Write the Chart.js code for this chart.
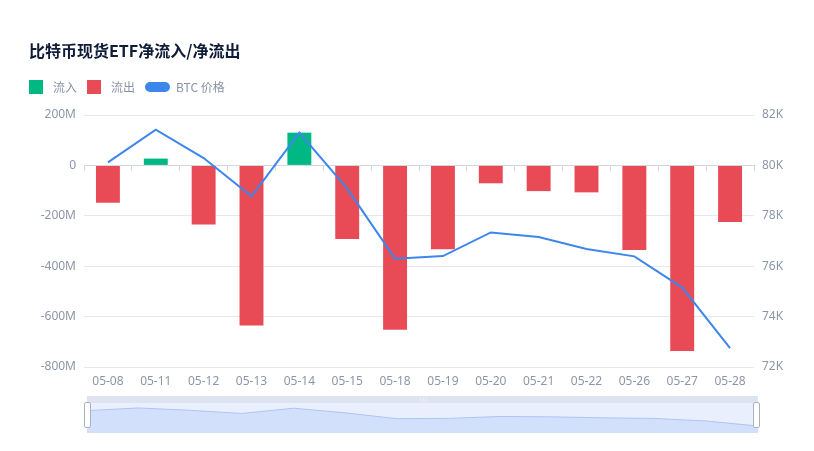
<!DOCTYPE html>
<html>
<head>
<meta charset="utf-8">
<script src="https://cdn.jsdelivr.net/npm/chart.js@4.4.1/dist/chart.umd.min.js"></script>
<style>
    body { margin: 0; background: #fff; font-family: "Noto Sans", "Noto Sans CJK SC", sans-serif; }
    #wrap { position: relative; width: 814px; height: 451px; }
    #main { position: absolute; left: 0; top: 0; }
    .title { position: absolute; left: 29px; top: 39px; font-size: 16px; font-weight: bold; color: #0f1c38; font-family: "Noto Sans CJK SC", sans-serif; line-height: 22px; }
    .legend { position: absolute; left: 29px; top: 78px; display: flex; align-items: center; font-size: 12px; color: #8a92a5; font-family: "Noto Sans CJK SC", sans-serif; }
    .legend .item { display: flex; align-items: center; margin-right: 10px; }
    .legend .sq { width: 14px; height: 14px; margin-right: 10px; }
    .legend .pill { width: 25px; height: 10px; border-radius: 5px; margin-right: 6px; }
    .slider { position: absolute; left: 87px; top: 396px; width: 671px; height: 37px; background: #e9effd; }
    .slider .band { position: absolute; left: 0; top: 0; width: 100%; height: 7px; background: #dde3f0; }
    .slider .grip { position: absolute; left: 332px; top: 1px; font-size: 5px; color: #fff; line-height: 5px; }
    #mini { position: absolute; left: 0; top: 7px; }
    .handle { position: absolute; top: 402px; width: 5px; height: 24px; background: #fff; border: 1px solid #a9b1c2; border-radius: 2px; }
</style>
</head>
<body>
<div id="wrap">
    <canvas id="main" width="814" height="451"></canvas>
    <div class="title">比特币现货ETF净流入/净流出</div>
    <div class="legend">
        <div class="item"><div class="sq" style="background:#00b883"></div><span>流入</span></div>
        <div class="item"><div class="sq" style="background:#e84b55"></div><span>流出</span></div>
        <div class="item"><div class="pill" style="background:#3d86ec"></div><span>BTC 价格</span></div>
    </div>
    <div class="slider">
        <div class="band"><span class="grip">|||</span></div>
        <canvas id="mini" width="671" height="30"></canvas>
    </div>
    <div class="handle" style="left:84px"></div>
    <div class="handle" style="left:753px"></div>
</div>
<script>
// Dates and values
const dates = ["05-08", "05-11", "05-12", "05-13", "05-14", "05-15", "05-18", "05-19", "05-20", "05-21", "05-22", "05-26", "05-27", "05-28"];
// net ETF flow, millions USD
const netFlow = [-148, 27, -235, -635, 130, -292, -652, -333, -71, -102, -107, -336, -737, -225];
// BTC price, USD
const btcPrice = [80120, 81420, 80290, 78770, 81300, 79080, 76300, 76400, 77340, 77160, 76680, 76390, 75150, 72750];

const flowTicks = { min: -800, max: 200, step: 200 };
const priceTicks = { min: 72000, max: 82000, step: 2000 };

const GREEN = '#00b883';
const RED = '#e84b55';
const BLUE = '#3d86ec';
const LABEL = '#8d95a6';
const GRID = '#e6e8ec';
const AXIS = '#d3d7de';

const inflow = netFlow.map(v => v > 0 ? v : null);
const outflow = netFlow.map(v => v < 0 ? v : null);

const font = { family: '"Noto Sans", "Noto Sans CJK SC", sans-serif', size: 12 };

function initCharts() {
    const ctx = document.getElementById('main').getContext('2d');
    new Chart(ctx, {
        type: 'bar',
        data: {
            labels: dates,
            datasets: [
                {
                    type: 'line',
                    label: 'BTC 价格',
                    data: btcPrice,
                    yAxisID: 'y1',
                    borderColor: BLUE,
                    borderWidth: 2,
                    pointRadius: 0,
                    tension: 0,
                    order: 0
                },
                {
                    label: '流入',
                    data: inflow,
                    backgroundColor: GREEN,
                    grouped: false,
                    barPercentage: 0.5,
                    categoryPercentage: 1,
                    order: 1
                },
                {
                    label: '流出',
                    data: outflow,
                    backgroundColor: RED,
                    grouped: false,
                    barPercentage: 0.5,
                    categoryPercentage: 1,
                    order: 1
                }
            ]
        },
        options: {
            responsive: false,
            animation: false,
            layout: { padding: { top: 115, left: 0, right: 0, bottom: 0 } },
            plugins: { legend: { display: false }, tooltip: { enabled: false }, title: { display: false } },
            scales: {
                x: {
                    position: { y: 0 },
                    grid: { display: true, drawOnChartArea: false, drawTicks: true, tickLength: 5, offset: true, color: AXIS },
                    border: { display: true, color: AXIS },
                    ticks: { display: false }
                },
                x2: {
                    type: 'category',
                    labels: dates,
                    position: 'bottom',
                    grid: { display: false, drawTicks: false },
                    border: { display: false },
                    ticks: { color: LABEL, font: font, padding: 7, maxRotation: 0, autoSkip: false },
                    afterFit: scale => { scale.height = 84; }
                },
                y: {
                    position: 'left',
                    min: flowTicks.min,
                    max: flowTicks.max,
                    ticks: {
                        stepSize: flowTicks.step,
                        color: LABEL,
                        font: font,
                        padding: 8,
                        callback: v => v === 0 ? '0' : v + 'M'
                    },
                    grid: { color: GRID, drawTicks: false },
                    border: { display: false },
                    afterFit: scale => { scale.width = 84; }
                },
                y1: {
                    position: 'right',
                    min: priceTicks.min,
                    max: priceTicks.max,
                    ticks: {
                        stepSize: priceTicks.step,
                        color: LABEL,
                        font: font,
                        padding: 8,
                        callback: v => (v / 1000) + 'K'
                    },
                    grid: { display: false, drawTicks: false },
                    border: { display: false },
                    afterFit: scale => { scale.width = 60; }
                }
            }
        }
    });

    // data zoom shadow (price line)
    const ctxMini = document.getElementById('mini').getContext('2d');
    new Chart(ctxMini, {
        type: 'line',
        data: {
            labels: dates,
            datasets: [{
                data: btcPrice,
                borderColor: '#adc4f4',
                borderWidth: 1,
                backgroundColor: '#d3e0fb',
                fill: 'start',
                pointRadius: 0,
                tension: 0
            }]
        },
        options: {
            responsive: false,
            animation: false,
            layout: { padding: 0 },
            plugins: { legend: { display: false }, tooltip: { enabled: false } },
            scales: {
                x: { display: false, offset: false },
                y: { display: false, min: 69400, max: 83800 }
            }
        }
    });
}

document.addEventListener('DOMContentLoaded', initCharts);
</script>
</body>
</html>
